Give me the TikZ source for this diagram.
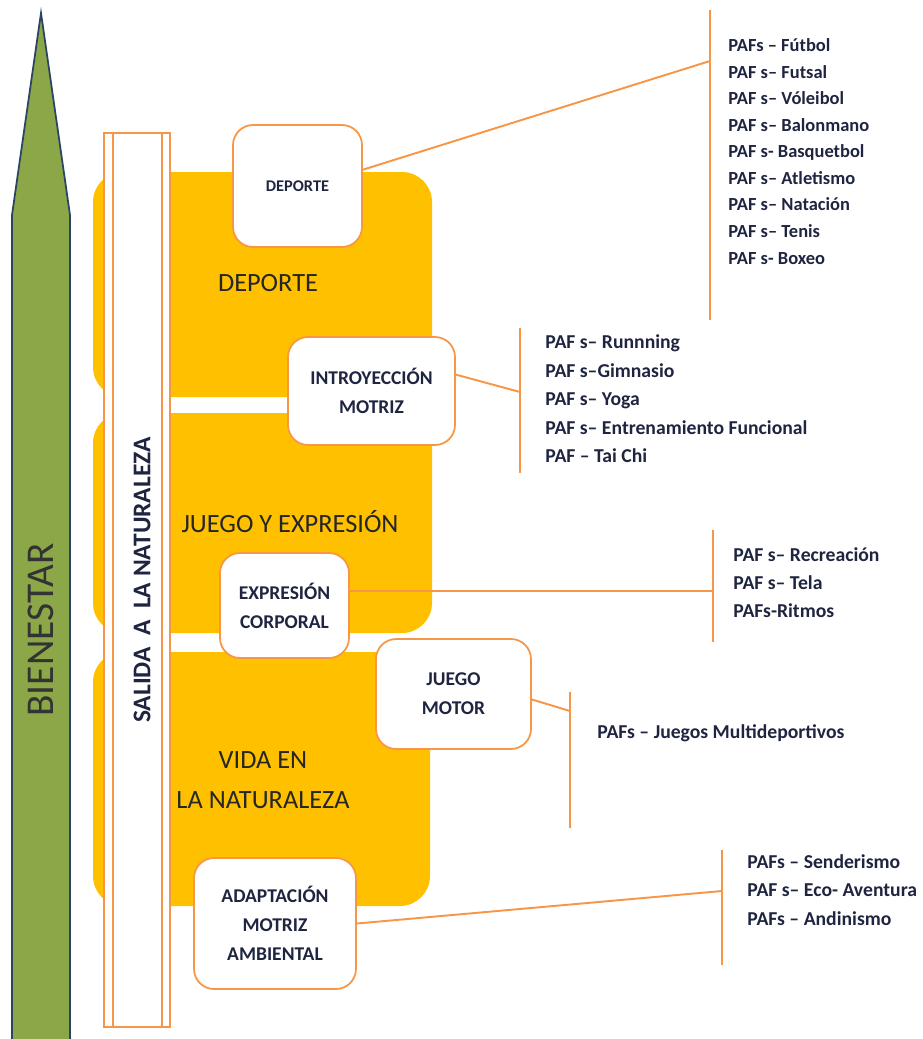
\documentclass[tikz,border=0pt]{standalone}
\usepackage{fontspec}
\setmainfont{Carlito}
\usetikzlibrary{positioning}
\definecolor{gold}{HTML}{FFC000}
\definecolor{peach}{HTML}{F79646}
\definecolor{olive}{HTML}{8BA747}
\definecolor{navy}{HTML}{2C4463}
\definecolor{ink}{HTML}{1F2540}

\begin{document}
\begin{tikzpicture}[x=0.02cm, y=-0.02cm,
  area/.style={fill=gold, rounded corners=0.6cm},
  card/.style={draw=peach, line width=1pt, fill=white, rounded corners=0.4cm, align=center, font=\bfseries\fontsize{11.1}{16.5}\selectfont, text=ink},
  link/.style={draw=peach, line width=1.1pt},
  list/.style={anchor=west, inner sep=0pt, align=left, text=ink},
  title/.style={font=\fontsize{15}{22.7}\selectfont, text=black!85, align=center}
]
\useasboundingbox (0,0) rectangle (923,1039);

% arrow
\filldraw[fill=olive, draw=navy, line width=1pt] (12,1045) -- (12,215) -- (41,13) -- (70,215) -- (70,1045);
\node[rotate=90, font=\fontsize{22.4}{26}\selectfont, text=black!80] (bien) at (41,630) {BIENESTAR};

% blocks
\fill[area] (93,172) rectangle (432,397);
\fill[area] (93,413) rectangle (432,633);
\fill[area] (93,652) rectangle (430,906);

% bar
\draw[peach, fill=white, line width=0.9pt] (104,133) rectangle (170,1027);
\draw[peach, line width=0.9pt] (113,133) -- (113,1027) (162,133) -- (162,1027);
\node[rotate=90, font=\bfseries\fontsize{14.5}{17}\selectfont, text=ink] (salida) at (142,580) {SALIDA\ \ A\ \ LA NATURALEZA};

\node[title] (tDep) at (268,283) {DEPORTE};
\node[title] (tJue) at (290,522) {JUEGO Y EXPRESIÓN};
\node[title] (tVid) at (263,780) {VIDA EN\\LA NATURALEZA};

\node[card, minimum width=2.58cm, minimum height=2.44cm, font=\bfseries\fontsize{9.3}{11}\selectfont] (cDep) at (297.5,186) {DEPORTE};
\node[card, minimum width=3.34cm, minimum height=2.16cm] (cIntro) at (371.5,391) {INTROYECCIÓN\\MOTRIZ};
\node[card, minimum width=2.58cm, minimum height=2.1cm] (cExpr) at (284.5,605.5) {EXPRESIÓN\\CORPORAL};
\node[card, minimum width=3.1cm, minimum height=2.2cm] (cJuego) at (453.5,694) {JUEGO\\MOTOR};
\node[card, minimum width=3.24cm, minimum height=2.62cm] (cAdap) at (275,923.5) {ADAPTACIÓN\\MOTRIZ\\AMBIENTAL};

% brackets
\coordinate (bDep) at (710,61);
\coordinate (bIntro) at (520,392);
\coordinate (bExpr) at (713,591);
\coordinate (bJuego) at (570,711);
\coordinate (bAdap) at (722,891);
\draw[link] (710,10) -- (710,320);
\draw[link] (520,328) -- (520,473);
\draw[link] (713,530) -- (713,642);
\draw[link] (570,692) -- (570,828);
\draw[link] (722,850) -- (722,965);

\draw[link] (cDep.14) -- (bDep);
\draw[link] (cIntro.11) -- (bIntro);
\draw[link] (cExpr.east |- bExpr) -- (bExpr);
\draw[link] (cJuego.-4) -- (bJuego);
\draw[link] (cAdap.east) -- (bAdap);

\node[list, font=\bfseries\fontsize{10.5}{15.1}\selectfont] (lDep) at (728,151.5) {PAFs – Fútbol\\PAF s– Futsal\\PAF s– Vóleibol\\PAF s– Balonmano\\PAF s- Basquetbol\\PAF s– Atletismo\\PAF s– Natación\\PAF s– Tenis\\PAF s- Boxeo};
\node[list, font=\bfseries\fontsize{11.2}{16.2}\selectfont] (lIntro) at (545,399) {PAF s– Runnning\\PAF s–Gimnasio\\PAF s– Yoga\\PAF s– Entrenamiento Funcional\\PAF – Tai Chi};
\node[list, font=\bfseries\fontsize{11.2}{16}\selectfont] (lExpr) at (733,583) {PAF s– Recreación\\PAF s– Tela\\PAFs-Ritmos};
\node[list, font=\bfseries\fontsize{11.2}{16}\selectfont] (lJuego) at (597,733) {PAFs – Juegos Multideportivos};
\node[list, font=\bfseries\fontsize{11.2}{16.2}\selectfont] (lAdap) at (747,890) {PAFs – Senderismo\\PAF s– Eco- Aventura\\PAFs – Andinismo};

\end{tikzpicture}
\end{document}
